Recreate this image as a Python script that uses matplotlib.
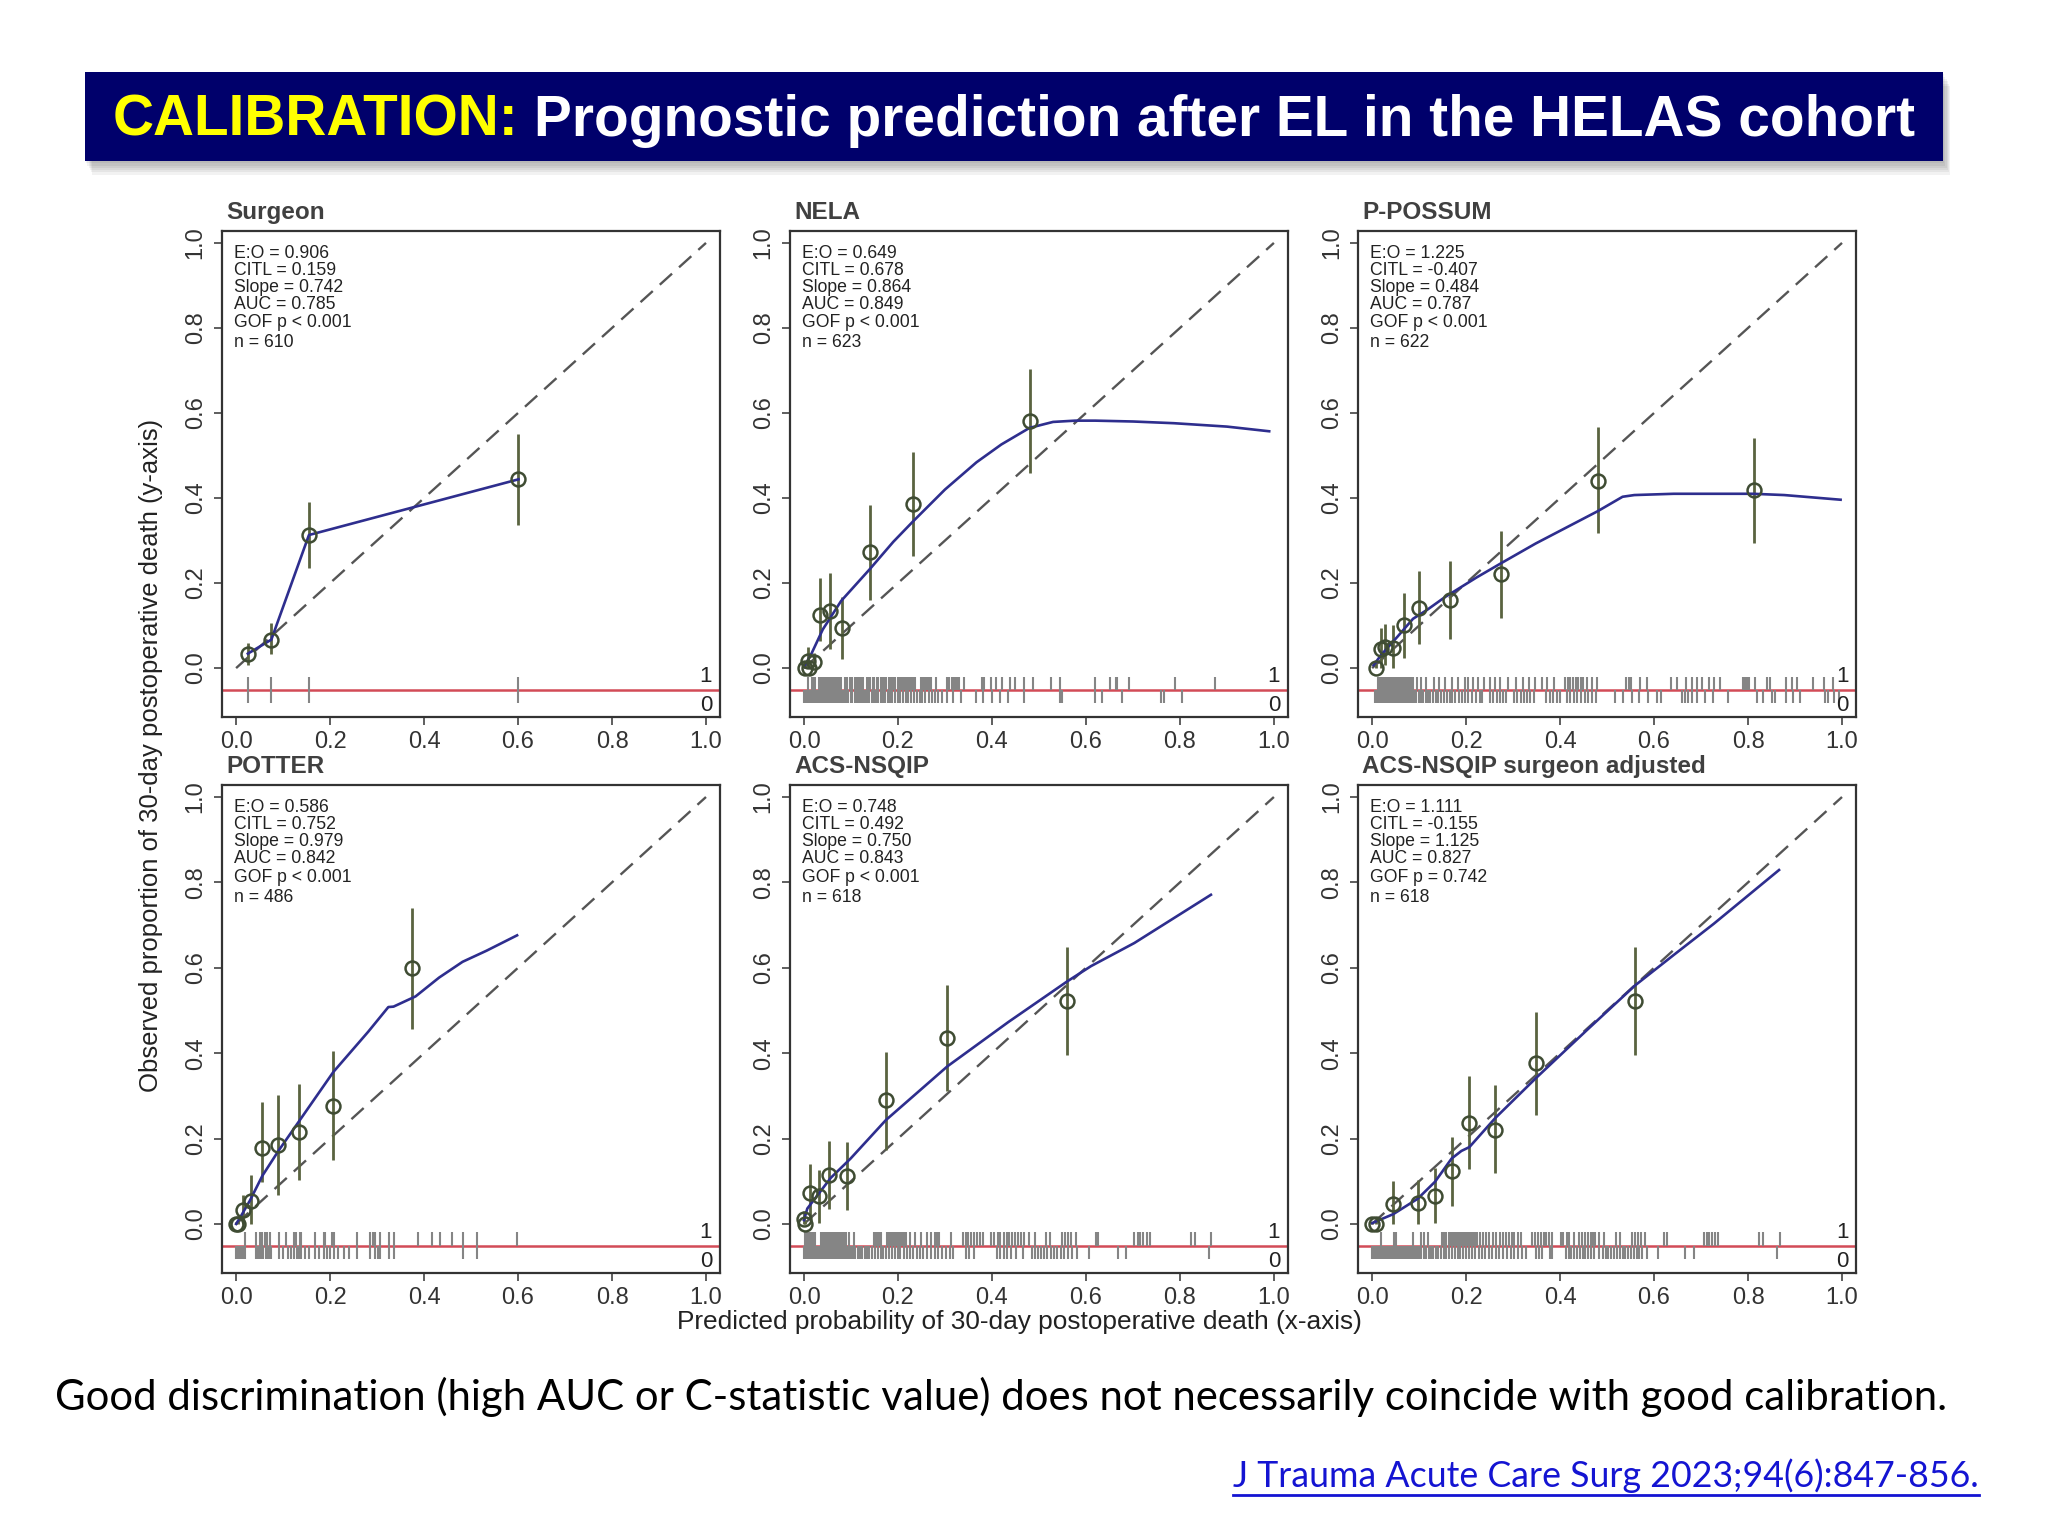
import numpy as np
import matplotlib
matplotlib.use("Agg")
import matplotlib.pyplot as plt
from matplotlib.patches import Rectangle
from matplotlib.lines import Line2D

plt.rcParams['font.family'] = ['Liberation Sans', 'DejaVu Sans']

# ---------------- data ----------------
titles = ["Surgeon", "NELA", "P-POSSUM", "POTTER", "ACS-NSQIP", "ACS-NSQIP surgeon adjusted"]

stats_surgeon = ["E:O = 0.906", "CITL = 0.159", "Slope = 0.742", "AUC = 0.785", "GOF p < 0.001", "n = 610"]
stats_nela = ["E:O = 0.649", "CITL = 0.678", "Slope = 0.864", "AUC = 0.849", "GOF p < 0.001", "n = 623"]
stats_possum = ["E:O = 1.225", "CITL = -0.407", "Slope = 0.484", "AUC = 0.787", "GOF p < 0.001", "n = 622"]
stats_potter = ["E:O = 0.586", "CITL = 0.752", "Slope = 0.979", "AUC = 0.842", "GOF p < 0.001", "n = 486"]
stats_nsqip = ["E:O = 0.748", "CITL = 0.492", "Slope = 0.750", "AUC = 0.843", "GOF p < 0.001", "n = 618"]
stats_adj = ["E:O = 1.111", "CITL = -0.155", "Slope = 1.125", "AUC = 0.827", "GOF p = 0.742", "n = 618"]

# grouped observed proportions with CI
surgeon_px = [0.025, 0.075, 0.155, 0.601]
surgeon_py = [0.034, 0.067, 0.313, 0.444]
surgeon_lo = [0.007, 0.034, 0.236, 0.336]
surgeon_hi = [0.059, 0.105, 0.390, 0.551]
surgeon_cx = [0.025, 0.075, 0.155, 0.601]
surgeon_cy = [0.034, 0.067, 0.313, 0.444]
surgeon_rug1 = [0.025, 0.075, 0.155, 0.601]
surgeon_rug0 = [0.025, 0.075, 0.155, 0.601]

nela_px = [0.002, 0.010, 0.008, 0.021, 0.034, 0.056, 0.080, 0.141, 0.232, 0.480]
nela_py = [0.0, 0.0, 0.017, 0.015, 0.126, 0.135, 0.094, 0.273, 0.386, 0.580]
nela_lo = [0.0, 0.0, 0.002, 0.003, 0.064, 0.045, 0.022, 0.161, 0.264, 0.458]
nela_hi = [0.010, 0.020, 0.049, 0.035, 0.211, 0.223, 0.167, 0.384, 0.508, 0.703]
nela_cx = [0.0, 0.015, 0.04, 0.079, 0.141, 0.19, 0.232, 0.30, 0.367, 0.42, 0.48, 0.53, 0.577, 0.62, 0.70, 0.787, 0.90, 0.99]
nela_cy = [0.003, 0.032, 0.091, 0.158, 0.234, 0.297, 0.345, 0.420, 0.484, 0.526, 0.565, 0.579, 0.582, 0.582, 0.580, 0.576, 0.568, 0.557]
nela_rug1 = [0.008, 0.017, 0.020, 0.024, 0.032, 0.035, 0.037, 0.040, 0.042, 0.045, 0.047, 0.050, 0.052,
             0.055, 0.058, 0.061, 0.063, 0.066, 0.069, 0.072, 0.075, 0.078, 0.087, 0.092, 0.097, 0.103,
             0.108, 0.112, 0.117, 0.121, 0.126, 0.133, 0.137, 0.141, 0.146, 0.150, 0.155, 0.158, 0.163,
             0.166, 0.170, 0.174, 0.181, 0.185, 0.190, 0.194, 0.199, 0.204, 0.208, 0.212, 0.216, 0.221,
             0.225, 0.229, 0.233, 0.237, 0.250, 0.253, 0.258, 0.262, 0.266, 0.271, 0.281, 0.304, 0.309,
             0.314, 0.318, 0.322, 0.326, 0.329, 0.341, 0.378, 0.381, 0.384, 0.397, 0.408, 0.422, 0.439,
             0.449, 0.469, 0.487, 0.525, 0.545, 0.619, 0.651, 0.665, 0.667, 0.692, 0.789, 0.875]
nela_rug0 = [0.000, 0.003, 0.005, 0.008, 0.010, 0.012, 0.015, 0.018, 0.020, 0.023, 0.026, 0.028, 0.031,
             0.034, 0.036, 0.039, 0.042, 0.044, 0.047, 0.050, 0.053, 0.056, 0.059, 0.062, 0.065, 0.068,
             0.071, 0.075, 0.078, 0.082, 0.086, 0.090, 0.094, 0.099, 0.103, 0.108, 0.112, 0.117, 0.121,
             0.125, 0.130, 0.135, 0.139, 0.144, 0.149, 0.154, 0.158, 0.163, 0.168, 0.173, 0.178, 0.183,
             0.188, 0.193, 0.199, 0.205, 0.211, 0.217, 0.222, 0.228, 0.234, 0.240, 0.246, 0.252, 0.258,
             0.265, 0.272, 0.279, 0.286, 0.294, 0.305, 0.317, 0.334, 0.367, 0.380, 0.401, 0.418, 0.434,
             0.468, 0.545, 0.550, 0.619, 0.634, 0.676, 0.760, 0.766, 0.804]

possum_px = [0.009, 0.018, 0.027, 0.045, 0.067, 0.100, 0.165, 0.275, 0.480, 0.813]
possum_py = [0.0, 0.045, 0.049, 0.048, 0.101, 0.142, 0.160, 0.221, 0.441, 0.420]
possum_lo = [0.0, 0.0, 0.007, 0.0, 0.024, 0.056, 0.069, 0.118, 0.317, 0.295]
possum_hi = [0.010, 0.095, 0.104, 0.101, 0.177, 0.228, 0.251, 0.323, 0.567, 0.541]
possum_cx = [0.003, 0.02, 0.054, 0.087, 0.117, 0.155, 0.222, 0.275, 0.348, 0.48, 0.533, 0.558, 0.642, 0.81, 0.877, 0.997]
possum_cy = [0.007, 0.032, 0.074, 0.116, 0.137, 0.167, 0.213, 0.247, 0.293, 0.369, 0.403, 0.407, 0.410, 0.410, 0.407, 0.396]
possum_rug1 = [0.012, 0.015, 0.018, 0.021, 0.024, 0.027, 0.030, 0.033, 0.036, 0.039, 0.042, 0.045, 0.048,
               0.051, 0.054, 0.057, 0.061, 0.064, 0.067, 0.071, 0.075, 0.079, 0.083, 0.087, 0.096, 0.104,
               0.115, 0.131, 0.142, 0.155, 0.171, 0.183, 0.197, 0.205, 0.214, 0.226, 0.239, 0.251, 0.262,
               0.272, 0.289, 0.306, 0.321, 0.334, 0.346, 0.361, 0.373, 0.388, 0.411, 0.416, 0.421, 0.427,
               0.433, 0.439, 0.445, 0.449, 0.457, 0.469, 0.478, 0.541, 0.546, 0.551, 0.571, 0.585, 0.636,
               0.649, 0.667, 0.680, 0.691, 0.703, 0.718, 0.728, 0.741, 0.789, 0.794, 0.798, 0.803, 0.815,
               0.840, 0.847, 0.880, 0.894, 0.904, 0.938, 0.962, 0.980]
possum_rug0 = [0.006, 0.009, 0.012, 0.015, 0.018, 0.021, 0.024, 0.027, 0.030, 0.033, 0.036, 0.039, 0.042,
               0.045, 0.048, 0.051, 0.054, 0.057, 0.060, 0.063, 0.066, 0.070, 0.074, 0.078, 0.082, 0.086,
               0.090, 0.094, 0.099, 0.104, 0.109, 0.114, 0.119, 0.124, 0.129, 0.135, 0.141, 0.147, 0.153,
               0.159, 0.165, 0.171, 0.177, 0.184, 0.191, 0.198, 0.205, 0.213, 0.221, 0.229, 0.234, 0.251,
               0.258, 0.265, 0.272, 0.278, 0.285, 0.302, 0.309, 0.316, 0.323, 0.330, 0.337, 0.344, 0.370,
               0.378, 0.386, 0.393, 0.400, 0.415, 0.422, 0.430, 0.437, 0.445, 0.452, 0.460, 0.467, 0.476,
               0.516, 0.533, 0.554, 0.567, 0.588, 0.607, 0.615, 0.659, 0.665, 0.672, 0.680, 0.692, 0.708,
               0.726, 0.758, 0.819, 0.831, 0.852, 0.858, 0.880, 0.895, 0.911, 0.964, 0.971, 0.982, 0.993]

potter_px = [0.0, 0.005, 0.014, 0.031, 0.056, 0.090, 0.133, 0.207, 0.374]
potter_py = [0.0, 0.0, 0.033, 0.054, 0.179, 0.186, 0.215, 0.276, 0.599]
potter_lo = [0.0, 0.0, 0.0, 0.0, 0.099, 0.068, 0.102, 0.149, 0.457]
potter_hi = [0.005, 0.010, 0.068, 0.115, 0.286, 0.302, 0.328, 0.404, 0.741]
potter_cx = [0.0, 0.008, 0.029, 0.056, 0.09, 0.133, 0.207, 0.281, 0.324, 0.335, 0.382, 0.432, 0.482, 0.533, 0.598]
potter_cy = [0.0, 0.014, 0.054, 0.113, 0.171, 0.239, 0.356, 0.45, 0.508, 0.509, 0.533, 0.577, 0.614, 0.64, 0.676]
potter_rug1 = [0.018, 0.042, 0.050, 0.056, 0.062, 0.066, 0.072, 0.092, 0.107, 0.123, 0.128, 0.136, 0.138,
               0.168, 0.188, 0.190, 0.205, 0.208, 0.258, 0.286, 0.292, 0.296, 0.306, 0.326, 0.335, 0.387,
               0.417, 0.435, 0.459, 0.482, 0.513, 0.598]
potter_rug0 = [0.0, 0.004, 0.008, 0.012, 0.016, 0.020, 0.042, 0.046, 0.050, 0.054, 0.058, 0.063, 0.067,
               0.072, 0.074, 0.092, 0.100, 0.111, 0.117, 0.123, 0.129, 0.133, 0.139, 0.146, 0.156, 0.168,
               0.177, 0.188, 0.194, 0.200, 0.209, 0.217, 0.230, 0.240, 0.258, 0.286, 0.295, 0.302, 0.307,
               0.326, 0.335, 0.482, 0.513]

nsqip_px = [0.0, 0.003, 0.013, 0.032, 0.054, 0.091, 0.174, 0.305, 0.560]
nsqip_py = [0.011, 0.0, 0.072, 0.065, 0.115, 0.113, 0.290, 0.435, 0.523]
nsqip_lo = [0.0, 0.0, 0.014, 0.002, 0.034, 0.033, 0.174, 0.312, 0.396]
nsqip_hi = [0.030, 0.010, 0.141, 0.126, 0.195, 0.191, 0.403, 0.559, 0.649]
nsqip_cx = [0.0, 0.007, 0.032, 0.057, 0.099, 0.174, 0.305, 0.435, 0.56, 0.611, 0.703, 0.866]
nsqip_cy = [0.009, 0.036, 0.072, 0.108, 0.153, 0.243, 0.369, 0.473, 0.568, 0.604, 0.658, 0.771]
nsqip_rug1 = [0.003, 0.007, 0.011, 0.015, 0.019, 0.024, 0.036, 0.040, 0.044, 0.048, 0.053, 0.057, 0.061,
              0.065, 0.069, 0.073, 0.077, 0.081, 0.086, 0.090, 0.095, 0.107, 0.148, 0.152, 0.156, 0.160,
              0.164, 0.176, 0.180, 0.184, 0.188, 0.192, 0.196, 0.200, 0.204, 0.208, 0.212, 0.216, 0.225,
              0.237, 0.250, 0.262, 0.271, 0.279, 0.283, 0.287, 0.313, 0.338, 0.344, 0.350, 0.356, 0.362,
              0.368, 0.374, 0.380, 0.399, 0.405, 0.412, 0.418, 0.426, 0.432, 0.437, 0.443, 0.449, 0.455,
              0.461, 0.468, 0.479, 0.491, 0.514, 0.523, 0.550, 0.556, 0.562, 0.569, 0.579, 0.621, 0.626,
              0.703, 0.710, 0.716, 0.722, 0.729, 0.736, 0.823, 0.833, 0.866]
nsqip_rug0 = [0.000, 0.003, 0.006, 0.009, 0.012, 0.015, 0.018, 0.021, 0.024, 0.027, 0.030, 0.033, 0.036,
              0.039, 0.042, 0.045, 0.048, 0.051, 0.054, 0.057, 0.060, 0.063, 0.067, 0.071, 0.075, 0.079,
              0.083, 0.087, 0.091, 0.095, 0.099, 0.104, 0.109, 0.114, 0.119, 0.124, 0.129, 0.134, 0.139,
              0.145, 0.151, 0.157, 0.163, 0.169, 0.175, 0.181, 0.187, 0.193, 0.199, 0.205, 0.212, 0.219,
              0.226, 0.233, 0.240, 0.247, 0.254, 0.262, 0.270, 0.278, 0.286, 0.294, 0.302, 0.310, 0.317,
              0.345, 0.352, 0.361, 0.411, 0.418, 0.425, 0.432, 0.440, 0.452, 0.466, 0.486, 0.492, 0.498,
              0.505, 0.511, 0.518, 0.525, 0.532, 0.539, 0.546, 0.553, 0.561, 0.570, 0.580, 0.606, 0.668,
              0.685, 0.862]

adj_px = [0.0, 0.009, 0.045, 0.097, 0.134, 0.169, 0.207, 0.262, 0.349, 0.560]
adj_py = [0.0, 0.0, 0.047, 0.048, 0.065, 0.123, 0.237, 0.221, 0.377, 0.523]
adj_lo = [0.0, 0.0, 0.0, 0.0, 0.002, 0.043, 0.128, 0.119, 0.255, 0.396]
adj_hi = [0.005, 0.008, 0.101, 0.104, 0.131, 0.203, 0.346, 0.326, 0.497, 0.649]
adj_cx = [0.0, 0.045, 0.097, 0.134, 0.169, 0.19, 0.207, 0.262, 0.349, 0.458, 0.56, 0.643, 0.727, 0.866]
adj_cy = [0.002, 0.023, 0.059, 0.099, 0.153, 0.171, 0.18, 0.248, 0.342, 0.455, 0.559, 0.631, 0.703, 0.829]
adj_rug1 = [0.018, 0.047, 0.051, 0.087, 0.104, 0.110, 0.119, 0.148, 0.153, 0.158, 0.163, 0.168, 0.172,
            0.176, 0.180, 0.184, 0.188, 0.192, 0.196, 0.200, 0.204, 0.208, 0.212, 0.216, 0.220, 0.223,
            0.230, 0.236, 0.242, 0.248, 0.257, 0.263, 0.273, 0.279, 0.285, 0.291, 0.297, 0.303, 0.310,
            0.317, 0.341, 0.347, 0.353, 0.359, 0.365, 0.371, 0.377, 0.383, 0.401, 0.407, 0.414, 0.420,
            0.429, 0.441, 0.447, 0.453, 0.459, 0.465, 0.470, 0.475, 0.482, 0.493, 0.518, 0.527, 0.553,
            0.559, 0.565, 0.572, 0.580, 0.622, 0.628, 0.706, 0.712, 0.718, 0.724, 0.730, 0.737, 0.824,
            0.832, 0.867]
adj_rug0 = [0.000, 0.003, 0.006, 0.009, 0.012, 0.015, 0.018, 0.021, 0.024, 0.027, 0.030, 0.033, 0.036,
            0.039, 0.042, 0.045, 0.048, 0.051, 0.054, 0.057, 0.060, 0.064, 0.068, 0.072, 0.076, 0.080,
            0.084, 0.088, 0.092, 0.096, 0.100, 0.105, 0.110, 0.115, 0.120, 0.125, 0.130, 0.135, 0.140,
            0.146, 0.152, 0.158, 0.164, 0.170, 0.176, 0.182, 0.188, 0.194, 0.200, 0.206, 0.213, 0.220,
            0.227, 0.234, 0.241, 0.248, 0.255, 0.263, 0.271, 0.279, 0.287, 0.295, 0.303, 0.311, 0.320,
            0.328, 0.349, 0.355, 0.361, 0.378, 0.382, 0.412, 0.418, 0.424, 0.430, 0.436, 0.442, 0.448,
            0.454, 0.460, 0.466, 0.472, 0.483, 0.491, 0.497, 0.503, 0.509, 0.515, 0.521, 0.527, 0.533,
            0.539, 0.545, 0.551, 0.557, 0.563, 0.569, 0.575, 0.584, 0.608, 0.666, 0.685, 0.862]

panels = [
    (stats_surgeon, surgeon_px, surgeon_py, surgeon_lo, surgeon_hi, surgeon_cx, surgeon_cy, surgeon_rug1, surgeon_rug0),
    (stats_nela, nela_px, nela_py, nela_lo, nela_hi, nela_cx, nela_cy, nela_rug1, nela_rug0),
    (stats_possum, possum_px, possum_py, possum_lo, possum_hi, possum_cx, possum_cy, possum_rug1, possum_rug0),
    (stats_potter, potter_px, potter_py, potter_lo, potter_hi, potter_cx, potter_cy, potter_rug1, potter_rug0),
    (stats_nsqip, nsqip_px, nsqip_py, nsqip_lo, nsqip_hi, nsqip_cx, nsqip_cy, nsqip_rug1, nsqip_rug0),
    (stats_adj, adj_px, adj_py, adj_lo, adj_hi, adj_cx, adj_cy, adj_rug1, adj_rug0),
]

ticks = [0.0, 0.2, 0.4, 0.6, 0.8, 1.0]
tick_labels = ["0.0", "0.2", "0.4", "0.6", "0.8", "1.0"]
stat_y = [0.976, 0.936, 0.896, 0.856, 0.812, 0.765]

# colours
navy = "#00006B"
curve_col = "#2E2E8E"
pt_col = "#3F4C33"
err_col = "#5A6340"
rug_col = "#858585"
red_col = "#D24B57"

fig = plt.figure(figsize=(20.48, 15.36), dpi=100)
fig.patch.set_facecolor("white")

lefts = [0.1084, 0.3857, 0.6631]
row_bottoms = [0.5332, 0.1712]
row_heights = [0.3164, 0.3177]
w = 0.2432

red_y = -0.052
for i, (stats, px, py, lo, hi, cx, cy, rug1, rug0) in enumerate(panels):
    r, c = divmod(i, 3)
    ax = fig.add_axes([lefts[c], row_bottoms[r], w, row_heights[r]])
    ax.set_xlim(-0.03, 1.03)
    ax.set_ylim(-0.115, 1.028)

    ax.plot([0, 1], [0, 1], color="#555555", lw=1.7, ls=(0, (7, 4)), zorder=2)
    ax.axhline(red_y, color=red_col, lw=1.8, zorder=2)
    ax.vlines(rug1, -0.02, red_y, color=rug_col, lw=1.5, zorder=3)
    ax.vlines(rug0, red_y, -0.083, color=rug_col, lw=1.5, zorder=3)

    ax.vlines(px, lo, hi, color=err_col, lw=2.0, zorder=4)
    ax.plot(cx, cy, color=curve_col, lw=1.9, zorder=5)
    ax.plot(px, py, "o", mfc="none", mec=pt_col, ms=10, mew=1.8, zorder=6)

    for s, yy in zip(stats, stat_y):
        ax.text(-0.005, yy, s, fontsize=12.7, color="#222222", ha="left", va="center")
    ax.text(1.0, -0.019, "1", fontsize=16, color="#222222", ha="center", va="center")
    ax.text(1.0, -0.087, "0", fontsize=16, color="#222222", ha="center", va="center")

    ax.text(0.008, 1.024, titles[i], transform=ax.transAxes, fontsize=17.5, fontweight="bold",
            color="#404040", ha="left", va="baseline")

    ax.set_xticks(ticks)
    ax.set_xticklabels(tick_labels)
    ax.set_yticks(ticks)
    ax.set_yticklabels(tick_labels, rotation=90, va="center")
    ax.tick_params(direction="out", length=6, width=1.1, labelsize=17, colors="#333333")
    ax.tick_params(axis="x", pad=4)
    ax.tick_params(axis="y", pad=5)
    for sp in ax.spines.values():
        sp.set_color("#333333")
        sp.set_linewidth(1.6)

renderer = fig.canvas.get_renderer()


def fit(t, target_px, vertical=False):
    bb = t.get_window_extent(renderer)
    size = bb.height if vertical else bb.width
    t.set_fontsize(t.get_fontsize() * target_px / size)


ylab = fig.text(0.0739, 0.5085, "Observed proportion of 30-day postoperative death (y-axis)",
                rotation=90, ha="center", va="center", fontsize=16, color="#222222")
fit(ylab, 670, vertical=True)
xlab = fig.text(0.4976, 0.1393, "Predicted probability of 30-day postoperative death (x-axis)",
                ha="center", va="center", fontsize=16, color="#222222")
fit(xlab, 686)

# banner with a soft shadow
bx0, bx1, by0, by1 = 0.0415, 0.9487, 0.8952, 0.9531
for k in range(6):
    off = 0.0015 * (k + 1)
    fig.add_artist(Rectangle((bx0 + off * 0.4, by0 - off), bx1 - bx0, by1 - by0,
                             transform=fig.transFigure, color="#000000", alpha=0.05, lw=0, zorder=0))
fig.add_artist(Rectangle((bx0, by0), bx1 - bx0, by1 - by0, transform=fig.transFigure,
                         color=navy, lw=0, zorder=1))

ty = 0.9215
t1 = fig.text(0, ty, "CALIBRATION:", color="#FFFF00", fontsize=40, fontweight="bold",
              ha="left", va="center", zorder=2)
t2 = fig.text(0, ty, "Prognostic prediction after EL in the HELAS cohort", color="white",
              fontsize=40, fontweight="bold", ha="left", va="center", zorder=2)
target = 1805
fw = fig.bbox.width
for _ in range(2):
    w1 = t1.get_window_extent(renderer).width
    w2 = t2.get_window_extent(renderer).width
    gap = 0.28 * t1.get_fontsize() * 100 / 72
    scale = target / (w1 + w2 + gap)
    t1.set_fontsize(t1.get_fontsize() * scale)
    t2.set_fontsize(t2.get_fontsize() * scale)
w1 = t1.get_window_extent(renderer).width
w2 = t2.get_window_extent(renderer).width
gap = 0.28 * t1.get_fontsize() * 100 / 72
x0 = (0.495 * fw) - (w1 + w2 + gap) / 2
t1.set_x(x0 / fw)
t2.set_x((x0 + w1 + gap) / fw)

# footer
foot = fig.text(0.0268, 0.0905,
                "Good discrimination (high AUC or C-statistic value) does not necessarily coincide with good calibration.",
                family=["Lato", "DejaVu Sans"], fontsize=30, color="black", ha="left", va="center")
fit(foot, 1891)

link = fig.text(0.9663, 0.039, "J Trauma Acute Care Surg 2023;94(6):847-856.",
                family=["Lato", "DejaVu Sans"], fontsize=28, color="#1414D2", ha="right", va="center")
fit(link, 746)
lb = link.get_window_extent(renderer)
uy = (lb.y0 - 2) / fig.bbox.height
fig.add_artist(Line2D([lb.x0 / fw, lb.x1 / fw], [uy, uy], transform=fig.transFigure,
                      color="#1414D2", lw=2))

fig.savefig("out.png", dpi=100)
